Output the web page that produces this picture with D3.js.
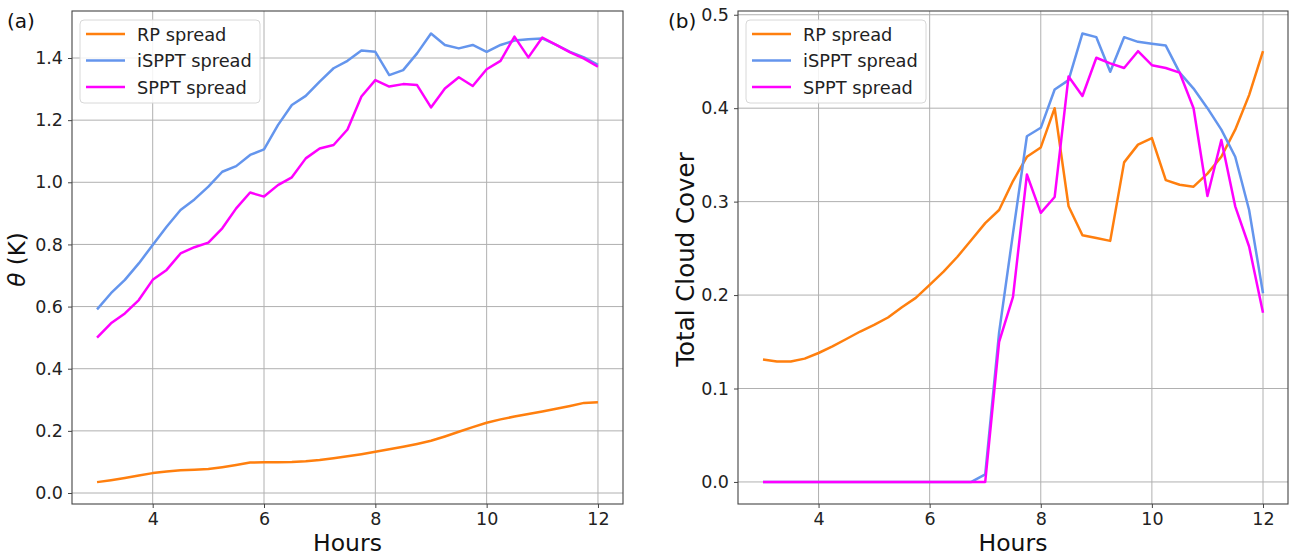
<!DOCTYPE html>
<html>
<head>
<meta charset="utf-8">
<script src="https://cdn.jsdelivr.net/npm/d3@7"></script>
<style>
  body { margin: 0; background: #fff; }
  svg text { font-family: "DejaVu Sans", sans-serif; }
</style>
</head>
<body>
<div id="chart"></div>
<script>
// hours after start (0.25 h steps)
const hours = [3, 3.25, 3.5, 3.75, 4, 4.25, 4.5, 4.75, 5, 5.25, 5.5, 5.75, 6, 6.25, 6.5, 6.75,
  7, 7.25, 7.5, 7.75, 8, 8.25, 8.5, 8.75, 9, 9.25, 9.5, 9.75, 10, 10.25, 10.5, 10.75,
  11, 11.25, 11.5, 11.75, 12];

// panel (a): potential temperature spread (K)
const thetaRP = [0.035, 0.041, 0.048, 0.056, 0.064, 0.069, 0.073, 0.075, 0.077, 0.083, 0.090, 0.098,
  0.099, 0.099, 0.100, 0.102, 0.106, 0.112, 0.118, 0.125, 0.133, 0.141, 0.149, 0.158,
  0.168, 0.182, 0.197, 0.212, 0.226, 0.237, 0.246, 0.254, 0.262, 0.271, 0.280, 0.290, 0.292];
const thetaISPPT = [0.591, 0.643, 0.686, 0.739, 0.798, 0.857, 0.911, 0.945, 0.986, 1.034, 1.052, 1.088,
  1.106, 1.184, 1.249, 1.278, 1.324, 1.367, 1.391, 1.424, 1.420, 1.345, 1.361, 1.415,
  1.479, 1.442, 1.431, 1.442, 1.420, 1.442, 1.456, 1.460, 1.463, 1.442, 1.420, 1.402, 1.378];
const thetaSPPT = [0.500, 0.546, 0.578, 0.621, 0.686, 0.718, 0.771, 0.791, 0.806, 0.852, 0.916, 0.967,
  0.954, 0.991, 1.016, 1.077, 1.109, 1.120, 1.170, 1.276, 1.329, 1.308, 1.316, 1.313,
  1.241, 1.302, 1.338, 1.310, 1.364, 1.391, 1.469, 1.402, 1.466, 1.442, 1.418, 1.398, 1.372];

// panel (b): total cloud cover spread
const tccRP = [0.131, 0.129, 0.129, 0.132, 0.138, 0.145, 0.153, 0.161, 0.168, 0.176, 0.187, 0.197,
  0.211, 0.225, 0.241, 0.259, 0.277, 0.291, 0.322, 0.348, 0.358, 0.400, 0.295, 0.264,
  0.261, 0.258, 0.342, 0.361, 0.368, 0.323, 0.318, 0.316, 0.330, 0.348, 0.377, 0.414, 0.461];
const tccISPPT = [0, 0, 0, 0, 0, 0, 0, 0, 0, 0, 0, 0,
  0, 0, 0, 0, 0.008, 0.160, 0.266, 0.370, 0.379, 0.420, 0.430, 0.480,
  0.476, 0.439, 0.476, 0.471, 0.469, 0.467, 0.438, 0.421, 0.400, 0.377, 0.348, 0.291, 0.202];
const tccSPPT = [0, 0, 0, 0, 0, 0, 0, 0, 0, 0, 0, 0,
  0, 0, 0, 0, 0, 0.150, 0.198, 0.329, 0.288, 0.305, 0.434, 0.413,
  0.454, 0.448, 0.443, 0.461, 0.446, 0.443, 0.438, 0.400, 0.306, 0.366, 0.295, 0.252, 0.181];

const seriesNames = ["RP spread", "iSPPT spread", "SPPT spread"];
const seriesColors = ["#ff7f0e", "#6495ed", "#ff00ff"];

const xTicks = [4, 6, 8, 10, 12];
const thetaTicks = [0.0, 0.2, 0.4, 0.6, 0.8, 1.0, 1.2, 1.4];
const tccTicks = [0.0, 0.1, 0.2, 0.3, 0.4, 0.5];

const width = 1295, height = 557;

const svg = d3.select("#chart")
  .append("svg")
  .attr("width", width)
  .attr("height", height);

const drawPanel = (opts) => {
  const { left, right, top, bottom, yDomain, yTicks, series, yLabel, tag, tagX, yLabelX, yLabelSize } = opts;

  const xScale = d3.scaleLinear().domain([2.55, 12.45]).range([left, right]);
  const yScale = d3.scaleLinear().domain(yDomain).range([bottom, top]);

  const g = svg.append("g");

  // grid
  g.append("g")
    .selectAll("line")
    .data(xTicks)
    .join("line")
      .attr("x1", d => xScale(d)).attr("x2", d => xScale(d))
      .attr("y1", top).attr("y2", bottom)
      .attr("stroke", "#b0b0b0").attr("stroke-width", 1);
  g.append("g")
    .selectAll("line")
    .data(yTicks)
    .join("line")
      .attr("x1", left).attr("x2", right)
      .attr("y1", d => yScale(d)).attr("y2", d => yScale(d))
      .attr("stroke", "#b0b0b0").attr("stroke-width", 1);

  // lines
  const line = d3.line()
    .x((d, i) => xScale(hours[i]))
    .y(d => yScale(d));

  series.forEach((vals, k) => {
    g.append("path")
      .datum(vals)
      .attr("fill", "none")
      .attr("stroke", seriesColors[k])
      .attr("stroke-width", 2.5)
      .attr("stroke-linejoin", "round")
      .attr("d", line);
  });

  // axes
  const bottomAxis = d3.axisBottom(xScale).tickValues(xTicks).tickSize(4).tickPadding(5)
    .tickFormat(d3.format("d"));
  const xAxisGroup = g.append("g")
    .attr("transform", `translate(0,${bottom})`)
    .call(bottomAxis);
  xAxisGroup.select(".domain").remove();

  const leftAxis = d3.axisLeft(yScale).tickValues(yTicks).tickSize(4).tickPadding(5)
    .tickFormat(d3.format(".1f"));
  const yAxisGroup = g.append("g")
    .attr("transform", `translate(${left},0)`)
    .call(leftAxis);
  yAxisGroup.select(".domain").remove();

  [xAxisGroup, yAxisGroup].forEach(ax => {
    ax.selectAll("text").attr("font-size", 17.5).attr("fill", "#222")
      .style("font-family", "DejaVu Sans, sans-serif");
    ax.selectAll("line").attr("stroke", "#444");
  });

  // frame
  g.append("rect")
    .attr("x", left).attr("y", top)
    .attr("width", right - left).attr("height", bottom - top)
    .attr("fill", "none")
    .attr("stroke", "#444")
    .attr("stroke-width", 1.1);

  // axis labels
  g.append("text")
    .attr("text-anchor", "middle")
    .attr("x", (left + right) / 2)
    .attr("y", 551)
    .attr("font-size", 23.5)
    .attr("fill", "#111")
    .text("Hours");

  const yl = g.append("text")
    .attr("text-anchor", "middle")
    .attr("transform", `translate(${yLabelX},${(top + bottom) / 2 + 2}) rotate(-90)`)
    .attr("font-size", yLabelSize)
    .attr("fill", "#111");
  yLabel(yl);

  // panel tag
  g.append("text")
    .attr("x", tagX)
    .attr("y", 28)
    .attr("font-size", 20)
    .attr("fill", "#111")
    .text(tag);

  // legend
  const lx = left + 8, ly = top + 9;
  const legend = g.append("g");
  legend.append("rect")
    .attr("x", lx).attr("y", ly)
    .attr("width", 180).attr("height", 83)
    .attr("rx", 4)
    .attr("fill", "rgba(255,255,255,0.85)")
    .attr("stroke", "#d8d8d8");
  seriesNames.forEach((name, k) => {
    const yy = ly + 14 + k * 26.5;
    legend.append("line")
      .attr("x1", lx + 6).attr("x2", lx + 45)
      .attr("y1", yy).attr("y2", yy)
      .attr("stroke", seriesColors[k])
      .attr("stroke-width", 2.5);
    legend.append("text")
      .attr("x", lx + 57)
      .attr("y", yy + 6.5)
      .attr("font-size", 17.8)
      .attr("fill", "#222")
      .text(name);
  });
};

drawPanel({
  left: 72, right: 623, top: 11, bottom: 504,
  yDomain: [-0.0354, 1.5513],
  yTicks: thetaTicks,
  series: [thetaRP, thetaISPPT, thetaSPPT],
  yLabelX: 25, yLabelSize: 23,
  tag: "(a)", tagX: 7,
  yLabel: t => {
    t.append("tspan").attr("font-style", "italic").text("θ");
    t.append("tspan").text(" (K)");
  }
});

drawPanel({
  left: 738, right: 1288, top: 11, bottom: 504,
  yDomain: [-0.0236, 0.504],
  yTicks: tccTicks,
  series: [tccRP, tccISPPT, tccSPPT],
  yLabelX: 694, yLabelSize: 24.5,
  tag: "(b)", tagX: 668,
  yLabel: t => t.text("Total Cloud Cover")
});
</script>
</body>
</html>
